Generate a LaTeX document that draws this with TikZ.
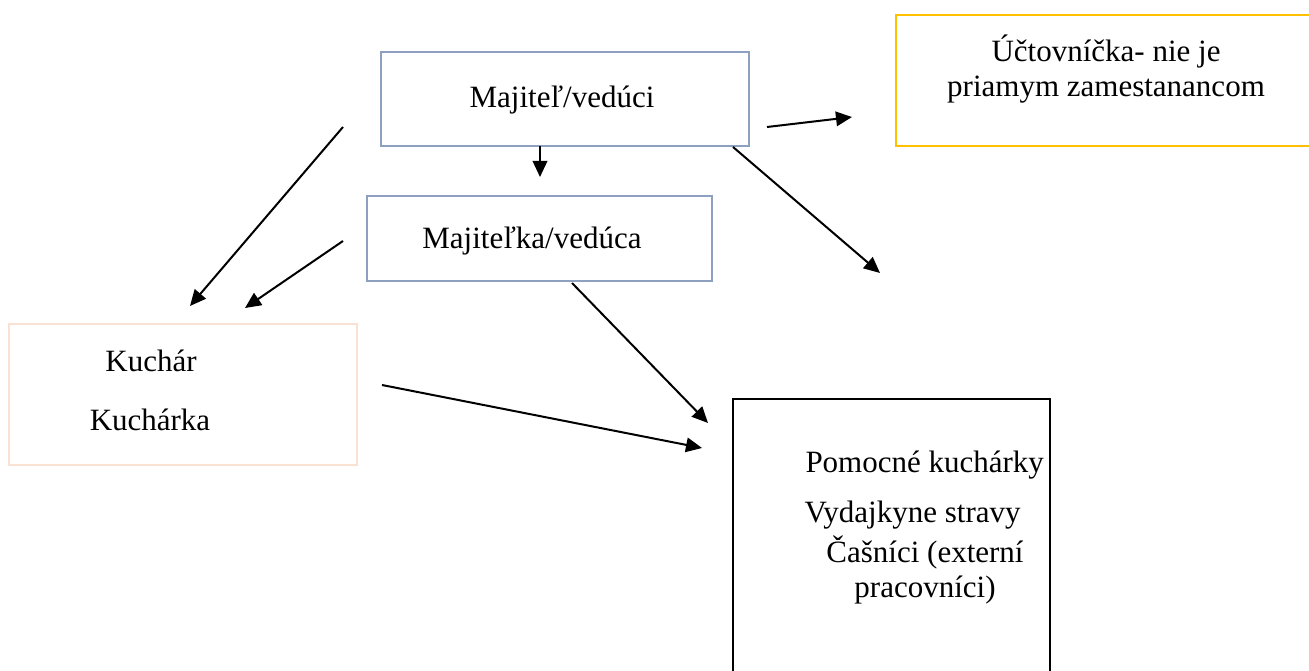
\documentclass[tikz,border=0pt]{standalone}
\usepackage{fontspec}
\setmainfont{Liberation Serif}
\usetikzlibrary{arrows.meta,positioning}
\newdimen\pxu \pxu=0.4pt
\definecolor{boxblue}{RGB}{141,160,192}
\definecolor{boxgold}{RGB}{255,192,0}
\definecolor{boxpeach}{RGB}{250,226,210}

\begin{document}
\begin{tikzpicture}[
  x=0.4pt, y=-0.4pt,
  box/.style={draw, inner sep=0pt, line width=0.5pt},
  lbl/.style={anchor=base, inner sep=0pt, font=\fontsize{12.4}{14}\selectfont},
  arr/.style={-{Triangle[length=6.4pt,width=5.8pt]}, line width=0.8pt}
]
\clip (0,0) rectangle (1309,671);
\fill[white] (0,0) rectangle (1309,671);

% boxes
\node[box, draw=boxblue, minimum width=368\pxu, minimum height=94\pxu] (owner) at (565,99) {};
\node[box, draw=boxblue, minimum width=345\pxu, minimum height=85\pxu] (deputy) at (539.5,238.5) {};
\node[box, draw=boxgold, line width=0.8pt, minimum width=424\pxu, minimum height=131\pxu] (acc) at (1108,80.5) {};
\node[box, draw=boxpeach, line width=0.8pt, minimum width=348\pxu, minimum height=141\pxu] (cook) at (183,394.5) {};
\node[box, draw=black, line width=0.6pt, minimum width=317\pxu, minimum height=300\pxu] (staff) at (891.5,549) {};

% texts
\node[lbl] (ownertxt) at (562,108) {Majiteľ/vedúci};
\node[lbl] (deputytxt) at (532,249) {Majiteľka/vedúca};
\node[lbl] (acctxt1) at (1106,62) {Účtovníčka- nie je};
\node[lbl] (acctxt2) at (1106,97) {priamym zamestanancom};
\node[lbl] (cooktxt1) at (151,372) {Kuchár};
\node[lbl] (cooktxt2) at (150,431) {Kuchárka};
\node[lbl, anchor=base west] (stafftxt1) at (805,473) {Pomocné kuchárky};
\node[lbl, anchor=base west] (stafftxt2) at (804,523) {Vydajkyne stravy};
\node[lbl] (stafftxt3) at (925,563) {Čašníci (externí};
\node[lbl] (stafftxt4) at (925,598) {pracovníci)};

% arrow ends
\coordinate (o1) at (767,127);  \coordinate (a1) at (852,117);
\coordinate (o2) at (540,146);  \coordinate (a2) at (540,177);
\coordinate (o3) at (343,127);  \coordinate (a3) at (190,306);
\coordinate (o4) at (343,241);  \coordinate (a4) at (245,308);
\coordinate (o5) at (733,147);  \coordinate (a5) at (880,273);
\coordinate (o6) at (572,283);  \coordinate (a6) at (708,423);
\coordinate (o7) at (382,385);  \coordinate (a7) at (702,448);

\draw[arr] (o1) -- (a1);
\draw[arr] (o2) -- (a2);
\draw[arr] (o3) -- (a3);
\draw[arr] (o4) -- (a4);
\draw[arr] (o5) -- (a5);
\draw[arr] (o6) -- (a6);
\draw[arr] (o7) -- (a7);
\end{tikzpicture}
\end{document}
